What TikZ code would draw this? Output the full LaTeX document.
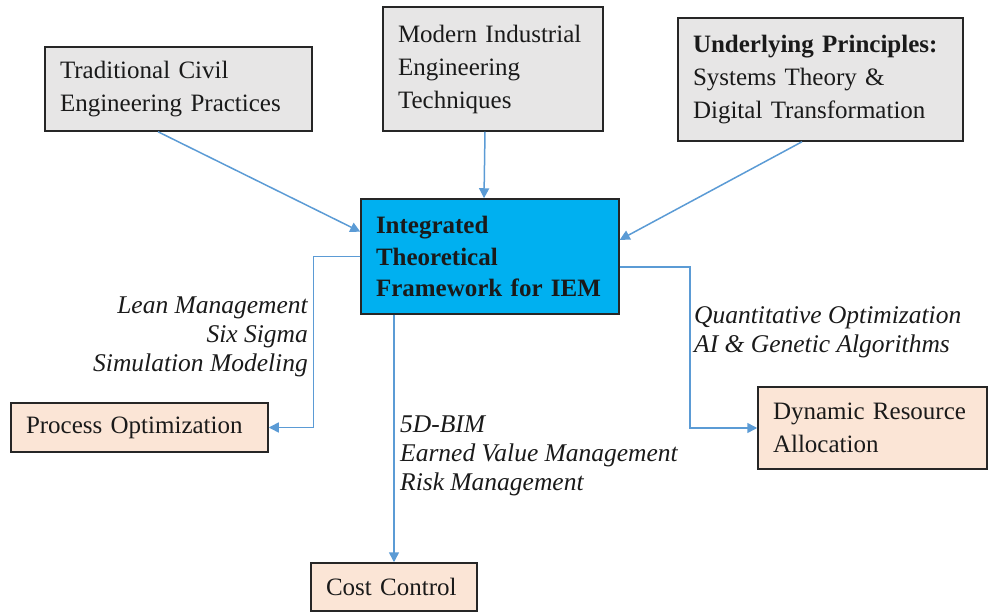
\documentclass[tikz,border=0pt]{standalone}
\usepackage{fontspec}
\setmainfont{Liberation Serif}
\usetikzlibrary{arrows.meta,calc}
\definecolor{boxgray}{HTML}{E7E6E6}
\definecolor{boxblue}{HTML}{00B0F0}
\definecolor{boxpeach}{HTML}{FBE5D6}
\definecolor{linkblue}{HTML}{5B9BD5}
\definecolor{edgedark}{HTML}{262626}
\definecolor{txt}{HTML}{1A1A1A}
\tikzset{
  box/.style={draw=edgedark, line width=1.5pt, inner xsep=15pt, inner ysep=0pt,
    align=left, text=txt, font=\fontsize{25}{33}\selectfont},
  graybox/.style={box, fill=boxgray},
  peachbox/.style={box, fill=boxpeach},
  bluebox/.style={box, fill=boxblue, font=\fontsize{25}{31.5}\selectfont\bfseries},
  lbl/.style={inner sep=0pt, text=txt, font=\fontsize{25.5}{29}\selectfont\itshape},
  arr/.style={draw=linkblue, line width=1.5pt, -{Triangle[length=10pt,width=10pt]}}
}
\begin{document}
\begin{tikzpicture}[x=1pt,y=-1pt]
\useasboundingbox (0,0) rectangle (991,612);
\node[graybox, text width=237pt, minimum height=84pt] (b1) at (178.5,89)
  {Traditional Civil\\Engineering Practices};
\node[graybox, text width=190pt, minimum height=124pt] (b2) at (493,69)
  {Modern Industrial\\Engineering\\Techniques};
\node[graybox, text width=255pt, minimum height=123pt] (b3) at (820.5,79.5)
  {\textbf{Underlying Principles:}\\Systems Theory \&\\Digital Transformation};
\node[bluebox, text width=228pt, minimum height=115pt] (c) at (490,256.5)
  {Integrated\\Theoretical\\Framework for IEM};
\node[peachbox, text width=227pt, minimum height=49pt] (p) at (139.5,427.5)
  {Process Optimization};
\node[peachbox, text width=136pt, minimum height=48pt] (cc) at (394,587)
  {Cost Control};
\node[peachbox, text width=199pt, minimum height=82pt] (d) at (872.5,428)
  {Dynamic Resource\\Allocation};

\draw[arr] ([xshift=-20.5pt]b1.south) -- ($(c.north west)!0.287!(c.south west)$);
\draw[arr] ([xshift=-8pt]b2.south) -- ([xshift=-6pt]c.north);
\draw[arr] ([xshift=-18.5pt]b3.south) -- ($(c.north east)!0.357!(c.south east)$);
\draw[arr] (c.west) -- ++(-47,0) |- (p.east);
\draw[arr] ($(c.north east)!0.59!(c.south east)$) -- ++(70,0) |- (d.west);
\draw[arr] (cc.north |- c.south) -- (cc.north);

\node[lbl, align=right, anchor=east] (l1) at (308,337)
  {Lean Management\\Six Sigma\\Simulation Modeling};
\node[lbl, align=left, anchor=west] (l2) at (400,456)
  {5D-BIM\\Earned Value Management\\Risk Management};
\node[lbl, align=left, anchor=west] (l3) at (694,332)
  {Quantitative Optimization\\AI \& Genetic Algorithms};
\end{tikzpicture}
\end{document}
